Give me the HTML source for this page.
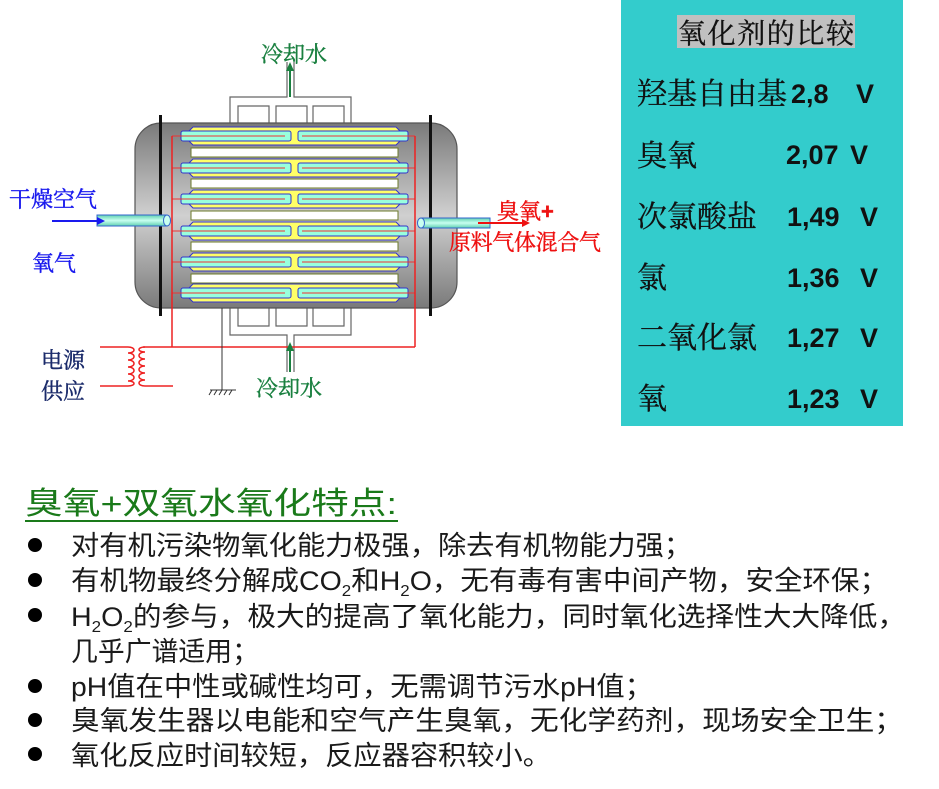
<!DOCTYPE html>
<html><head><meta charset="utf-8"><style>
html,body{margin:0;padding:0;background:#fff;width:939px;height:789px;overflow:hidden}
svg{display:block}
.cn{font-family:"Liberation Serif","Noto Serif CJK SC","Noto Sans CJK SC",serif}
.sn{font-family:"Liberation Sans","Noto Sans CJK SC",sans-serif}
</style></head><body>
<svg width="939" height="789" viewBox="0 0 939 789" xmlns="http://www.w3.org/2000/svg">
<defs>
<linearGradient id="bg" x1="0" y1="0" x2="0" y2="1">
<stop offset="0" stop-color="#7a7a7a"/><stop offset="0.5" stop-color="#d0d0d0"/><stop offset="1" stop-color="#7a7a7a"/>
</linearGradient>
<linearGradient id="pg" x1="0" y1="0" x2="0" y2="1">
<stop offset="0" stop-color="#5fd0b0"/><stop offset="0.5" stop-color="#c8fff0"/><stop offset="1" stop-color="#5fd0b0"/>
</linearGradient>
</defs>
<g fill="none" stroke="#666" stroke-width="1.2">
<path d="M230 123 V97 H287 V62 M294 62 V97 H351 V123"/>
<path d="M238 123 V106 H269 V123 M276 123 V106 H307 V123 M313 123 V106 H344 V123"/>
<path d="M230 308 V335 H287 V372 M294 372 V335 H351 V308"/>
<path d="M238 308 V326 H269 V308 M276 308 V326 H307 V308 M313 308 V326 H344 V308"/>
</g>
<rect x="135" y="123" width="322" height="185" rx="26" fill="url(#bg)" stroke="#555" stroke-width="1.2"/>
<rect x="159" y="115" width="3" height="201" fill="#111"/>
<rect x="429" y="115" width="3" height="201" fill="#111"/>
<g fill="#fff" stroke="#6b7a2a" stroke-width="1">
<rect x="191" y="148" width="207" height="9"/>
<rect x="191" y="179" width="207" height="9"/>
<rect x="191" y="211" width="207" height="9"/>
<rect x="191" y="242" width="207" height="9"/>
<rect x="191" y="274" width="207" height="9"/>
</g>
<g>
<g transform="translate(0,136)"><polygon points="193,-9 396,-9 402,-3 402,3 396,9 193,9 187,3 187,-3" fill="#ffff66" stroke="#3333cc"/><rect x="181" y="-5" width="110" height="10" rx="2" fill="#99ffdd" stroke="#3333cc"/><rect x="298" y="-5" width="110" height="10" rx="2" fill="#99ffdd" stroke="#3333cc"/><path d="M172 0H285M302 0H415" stroke="#e33" stroke-width="1"/></g>
<g transform="translate(0,168)"><polygon points="193,-9 396,-9 402,-3 402,3 396,9 193,9 187,3 187,-3" fill="#ffff66" stroke="#3333cc"/><rect x="181" y="-5" width="110" height="10" rx="2" fill="#99ffdd" stroke="#3333cc"/><rect x="298" y="-5" width="110" height="10" rx="2" fill="#99ffdd" stroke="#3333cc"/><path d="M172 0H285M302 0H415" stroke="#e33" stroke-width="1"/></g>
<g transform="translate(0,199)"><polygon points="193,-9 396,-9 402,-3 402,3 396,9 193,9 187,3 187,-3" fill="#ffff66" stroke="#3333cc"/><rect x="181" y="-5" width="110" height="10" rx="2" fill="#99ffdd" stroke="#3333cc"/><rect x="298" y="-5" width="110" height="10" rx="2" fill="#99ffdd" stroke="#3333cc"/><path d="M172 0H285M302 0H415" stroke="#e33" stroke-width="1"/></g>
<g transform="translate(0,231)"><polygon points="193,-9 396,-9 402,-3 402,3 396,9 193,9 187,3 187,-3" fill="#ffff66" stroke="#3333cc"/><rect x="181" y="-5" width="110" height="10" rx="2" fill="#99ffdd" stroke="#3333cc"/><rect x="298" y="-5" width="110" height="10" rx="2" fill="#99ffdd" stroke="#3333cc"/><path d="M172 0H285M302 0H415" stroke="#e33" stroke-width="1"/></g>
<g transform="translate(0,262)"><polygon points="193,-9 396,-9 402,-3 402,3 396,9 193,9 187,3 187,-3" fill="#ffff66" stroke="#3333cc"/><rect x="181" y="-5" width="110" height="10" rx="2" fill="#99ffdd" stroke="#3333cc"/><rect x="298" y="-5" width="110" height="10" rx="2" fill="#99ffdd" stroke="#3333cc"/><path d="M172 0H285M302 0H415" stroke="#e33" stroke-width="1"/></g>
<g transform="translate(0,293)"><polygon points="193,-9 396,-9 402,-3 402,3 396,9 193,9 187,3 187,-3" fill="#ffff66" stroke="#3333cc"/><rect x="181" y="-5" width="110" height="10" rx="2" fill="#99ffdd" stroke="#3333cc"/><rect x="298" y="-5" width="110" height="10" rx="2" fill="#99ffdd" stroke="#3333cc"/><path d="M172 0H285M302 0H415" stroke="#e33" stroke-width="1"/></g>
</g>
<g fill="none" stroke="#e22" stroke-width="1.5">
<path d="M172 136 V347 M415 136 V347 M143 347 H415"/>
<path d="M100 347 H128 c8 0 8 6 0 6 c8 0 8 7 0 7 c8 0 8 7 0 7 c8 0 8 7 0 7 c8 0 8 7 0 7 c8 0 8 5 0 5 H100"/>
<path d="M173 386 H145 c-8 0 -8 -6 0 -6 c-8 0 -8 -7 0 -7 c-8 0 -8 -7 0 -7 c-8 0 -8 -7 0 -7 c-8 0 -8 -7 0 -7 c-8 0 -8 -5 0 -5"/>
</g>
<path d="M222 308 V390 M210 390 H236 M212 390 l-3 5 M217 390 l-3 5 M222 390 l-3 5 M227 390 l-3 5 M232 390 l-3 5" stroke="#333" stroke-width="1" fill="none"/>
<rect x="97" y="215" width="70" height="11" fill="url(#pg)" stroke="#3366cc"/>
<ellipse cx="167" cy="220.5" rx="3.5" ry="5.5" fill="#c8fff0" stroke="#3366cc"/>
<rect x="421" y="218" width="69" height="10" fill="url(#pg)" stroke="#3366cc"/>
<ellipse cx="421" cy="223" rx="3.5" ry="5" fill="#c8fff0" stroke="#3366cc"/>
<path d="M52 221 H100" stroke="#1a1aee" stroke-width="2"/><polygon points="105,221 97,217 97,225" fill="#1a1aee"/>
<path d="M478 223 H524" stroke="#ee1111" stroke-width="2"/><polygon points="530,223 522,219 522,227" fill="#ee1111"/>
<path d="M290 97 V70" stroke="#1a8040" stroke-width="2"/><polygon points="290,62 286,71 294,71" fill="#1a8040"/>
<path d="M290 372 V350" stroke="#1a8040" stroke-width="2"/><polygon points="290,342 286,351 294,351" fill="#1a8040"/>
<g class="cn" font-size="22" stroke-width="0.4">
<text x="261" y="62" fill="#1a8040" stroke="#1a8040">冷却水</text>
<text x="256" y="396" fill="#1a8040" stroke="#1a8040">冷却水</text>
<text x="9" y="207" fill="#1a1aee" stroke="#1a1aee">干燥空气</text>
<text x="32" y="271" fill="#1a1aee" stroke="#1a1aee">氧气</text>
<text x="497" y="219" fill="#ee1111" stroke="#ee1111">臭氧<tspan class="sn" font-weight="bold">+</tspan></text>
<text x="449" y="250" fill="#ee1111" stroke="#ee1111" textLength="152">原料气体混合气</text>
<text x="41" y="368" fill="#1a2a6a" stroke="#1a2a6a">电源</text>
<text x="41" y="399" fill="#1a2a6a" stroke="#1a2a6a">供应</text>
</g>
<rect x="621" y="0" width="282" height="426" fill="#33cccc"/>
<rect x="677" y="15" width="178" height="33" fill="#c0c0c0"/>
<g class="cn" font-size="30" fill="#111" stroke="#111" stroke-width="0.3">
<text x="678" y="43" font-size="28" textLength="176">氧化剂的比较</text>
<text x="637" y="104" textLength="150">羟基自由基</text>
<text x="637" y="166">臭氧</text>
<text x="637" y="227">次氯酸盐</text>
<text x="637" y="288">氯</text>
<text x="637" y="348">二氧化氯</text>
<text x="637" y="409">氧</text>
</g>
<g class="sn" font-size="27" font-weight="bold" fill="#111">
<text x="791" y="103">2,8</text><text x="856" y="103">V</text>
<text x="786" y="164">2,07</text><text x="850" y="164">V</text>
<text x="787" y="226">1,49</text><text x="860" y="226">V</text>
<text x="787" y="287">1,36</text><text x="860" y="287">V</text>
<text x="787" y="347">1,27</text><text x="860" y="347">V</text>
<text x="787" y="408">1,23</text><text x="860" y="408">V</text>
</g>
<text class="sn" x="25" y="514" font-size="31" fill="#1a7a1a" textLength="372" lengthAdjust="spacingAndGlyphs">臭氧+双氧水氧化特点:</text>
<rect x="25" y="520" width="373" height="2" fill="#1a7a1a"/>
<g fill="#000">
<circle cx="35" cy="545" r="7"/><circle cx="35" cy="580" r="7"/><circle cx="35" cy="615" r="7"/>
<circle cx="35" cy="686" r="7"/><circle cx="35" cy="720" r="7"/><circle cx="35" cy="754" r="7"/>
</g>
<g class="sn" font-size="27" fill="#1a1a1a">
<text x="71" y="555" textLength="621" lengthAdjust="spacingAndGlyphs">对有机污染物氧化能力极强，除去有机物能力强；</text>
<text x="71" y="590" textLength="817" lengthAdjust="spacingAndGlyphs">有机物最终分解成CO<tspan font-size="16" dy="6">2</tspan><tspan dy="-6">和H</tspan><tspan font-size="16" dy="6">2</tspan><tspan dy="-6">O，无有毒有害中间产物，安全环保；</tspan></text>
<text x="71" y="626" textLength="835" lengthAdjust="spacingAndGlyphs">H<tspan font-size="16" dy="6">2</tspan><tspan dy="-6">O</tspan><tspan font-size="16" dy="6">2</tspan><tspan dy="-6">的参与，极大的提高了氧化能力，同时氧化选择性大大降低，</tspan></text>
<text x="71" y="661" textLength="188" lengthAdjust="spacingAndGlyphs">几乎广谱适用；</text>
<text x="71" y="696" textLength="582" lengthAdjust="spacingAndGlyphs">pH值在中性或碱性均可，无需调节污水pH值；</text>
<text x="71" y="730" textLength="832" lengthAdjust="spacingAndGlyphs">臭氧发生器以电能和空气产生臭氧，无化学药剂，现场安全卫生；</text>
<text x="71" y="765" textLength="480" lengthAdjust="spacingAndGlyphs">氧化反应时间较短，反应器容积较小。</text>
</g>
</svg>
</body></html>
